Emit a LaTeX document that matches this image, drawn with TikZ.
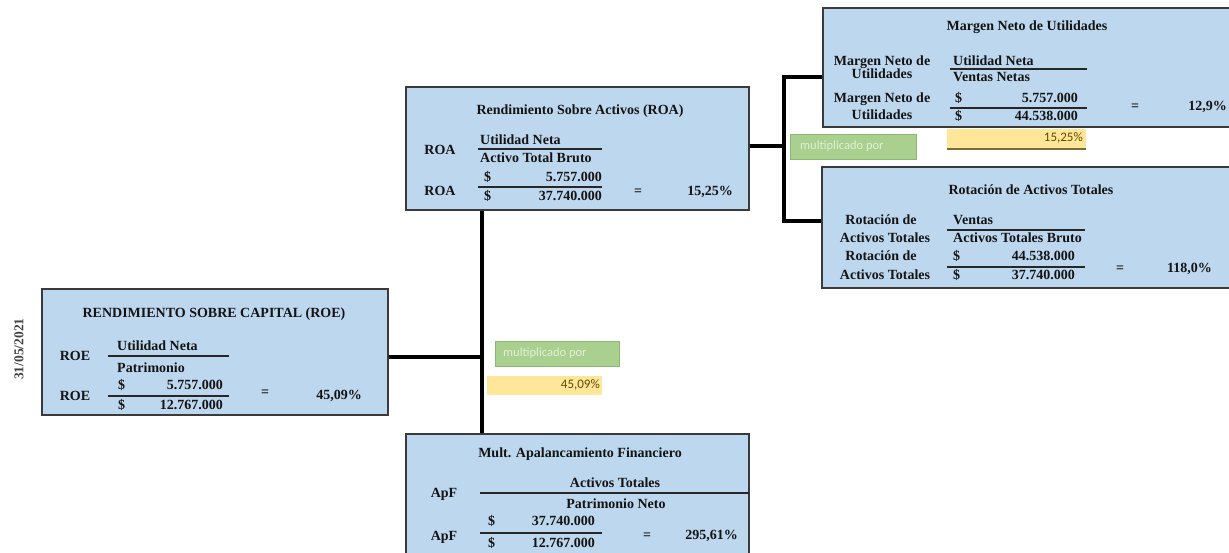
\documentclass[tikz,border=0pt]{standalone}
\usepackage{fontspec}
\setmainfont{Liberation Serif}
\newfontfamily\carl{Carlito}
\definecolor{boxblue}{HTML}{BDD7EE}
\definecolor{boxedge}{HTML}{3A3A3A}
\definecolor{grfill}{HTML}{A9D08E}
\definecolor{gredge}{HTML}{8DB871}
\definecolor{grtext}{HTML}{E2EFDA}
\definecolor{yelfill}{HTML}{FFE699}
\definecolor{yeltext}{HTML}{5E4A00}
\definecolor{yeledge}{HTML}{7F6A3A}
\begin{document}
\begin{tikzpicture}[x=1pt,y=-1pt,
  box/.style={draw=boxedge,line width=1.6pt,fill=boxblue,inner sep=0pt},
  conn/.style={line width=4pt,black,line join=miter},
  tx/.style={font=\fontsize{14}{16}\selectfont\bfseries,inner sep=0pt,text=black!92},
  ttl/.style={tx,anchor=mid},
  lbl/.style={tx,anchor=mid},
  lw/.style={tx,anchor=mid west},
  le/.style={tx,anchor=mid east},
  frac/.style={line width=1.4pt,black!85},
  green/.style={draw=gredge,line width=0.8pt,fill=grfill,inner sep=0pt},
  gtext/.style={font=\carl\fontsize{12.5}{14}\selectfont,text=grtext,inner sep=0pt,anchor=mid west},
  yel/.style={fill=yelfill,draw=none,inner sep=0pt},
  ytext/.style={font=\carl\fontsize{13}{14}\selectfont,text=yeltext,inner sep=0pt,anchor=mid east}
]
\useasboundingbox (0,0) rectangle (1229,552);
\fill[white] (0,0) rectangle (1229,552);

% ---------- boxes ----------
\node[box,minimum width=346pt,minimum height=126pt] (roe) at (215,352) {};
\node[box,minimum width=343pt,minimum height=123pt] (roa) at (577.5,148.5) {};
\node[box,minimum width=420pt,minimum height=119pt] (mar) at (1033,67.5) {};
\node[box,minimum width=420pt,minimum height=121pt] (rot) at (1032,227.5) {};
\node[box,minimum width=343pt,minimum height=130pt] (apf) at (577.5,499) {};

% ---------- connectors ----------
\coordinate (j1) at (482,357);
\coordinate (j2) at (784,146);
\coordinate (jt) at (784,77);
\coordinate (jb) at (784,221);
\draw[conn] (roe.east |- j1) -- (j1);
\draw[conn] (roa.south -| j1) -- (apf.north -| j1);
\draw[conn] (roa.east |- j2) -- (j2);
\draw[conn] (mar.west |- jt) -- (jt) -- (jb) -- (rot.west |- jb);

% ---------- date ----------
\node[font=\fontsize{13.5}{15}\selectfont\bfseries,text=black!75,rotate=90,inner sep=0pt] (date) at (19,349) {31/05/2021};

% ---------- ROE ----------
\node[ttl] (roeT) at (214,315) {RENDIMIENTO SOBRE CAPITAL (ROE)};
\node[lbl] (roeL1) at (75,358) {ROE};
\node[lbl] (roeL2) at (75,398) {ROE};
\node[lw] (roeN) at (117,348) {Utilidad Neta};
\draw[frac] (108,356) -- (229,356);
\node[lw] (roeD) at (117,370) {Patrimonio};
\node[lw] (roeS1) at (118,387) {\$};
\node[le] (roeV1) at (223,387) {5.757.000};
\draw[frac] (108,396) -- (229,396);
\node[lw] (roeS2) at (118,407) {\$};
\node[le] (roeV2) at (223,407) {12.767.000};
\node[lbl] (roeEq) at (265,394) {=};
\node[le] (roeR) at (362,397) {45,09\%};

% ---------- ROA ----------
\node[ttl] (roaT) at (580,112) {Rendimiento Sobre Activos (ROA)};
\node[lbl] (roaL1) at (440,152) {ROA};
\node[lbl] (roaL2) at (440,193) {ROA};
\node[lw] (roaN) at (480,142) {Utilidad Neta};
\draw[frac] (478,149) -- (602,149);
\node[lw] (roaD) at (480,160) {Activo Total Bruto};
\node[lw] (roaS1) at (484,179) {\$};
\node[le] (roaV1) at (602,179) {5.757.000};
\draw[frac] (478,187) -- (602,187);
\node[lw] (roaS2) at (484,198) {\$};
\node[le] (roaV2) at (602,198) {37.740.000};
\node[lbl] (roaEq) at (638,193) {=};
\node[le] (roaR) at (733,193) {15,25\%};

% ---------- Margen ----------
\node[ttl] (marT) at (1027,28) {Margen Neto de Utilidades};
\node[lbl] (marL1) at (882,63) {Margen Neto de};
\node[lbl] (marL2) at (882,76) {Utilidades};
\node[lbl] (marL3) at (882,100) {Margen Neto de};
\node[lbl] (marL4) at (882,117) {Utilidades};
\node[lw] (marN) at (953,63) {Utilidad Neta};
\draw[frac] (950,69) -- (1087,69);
\node[lw] (marD) at (953,79) {Ventas Netas};
\node[lw] (marS1) at (955,100) {\$};
\node[le] (marV1) at (1078,100) {5.757.000};
\draw[frac] (950,108) -- (1087,108);
\node[lw] (marS2) at (955,118) {\$};
\node[le] (marV2) at (1078,118) {44.538.000};
\node[lbl] (marEq) at (1135,108) {=};
\node[le] (marR) at (1227,108) {12,9\%};

% ---------- Rotacion ----------
\node[ttl] (rotT) at (1031,192) {Rotación de Activos Totales};
\node[lbl] (rotL1) at (881,222) {Rotación de};
\node[lbl] (rotL2) at (885,240) {Activos Totales};
\node[lbl] (rotL3) at (881,258) {Rotación de};
\node[lbl] (rotL4) at (885,277) {Activos Totales};
\node[lw] (rotN) at (953,222) {Ventas};
\draw[frac] (947,230) -- (1085,230);
\node[lw] (rotD) at (953,240) {Activos Totales Bruto};
\node[lw] (rotS1) at (953,258) {\$};
\node[le] (rotV1) at (1075,258) {44.538.000};
\draw[frac] (947,267) -- (1085,267);
\node[lw] (rotS2) at (953,277) {\$};
\node[le] (rotV2) at (1075,277) {37.740.000};
\node[lbl] (rotEq) at (1120,270) {=};
\node[le] (rotR) at (1212,270) {118,0\%};

% ---------- ApF ----------
\node[ttl] (apfT) at (580,455) {Mult. Apalancamiento Financiero};
\node[lbl] (apfL1) at (444,495) {ApF};
\node[lbl] (apfL2) at (444,538) {ApF};
\node[lbl] (apfN) at (615,485) {Activos Totales};
\draw[frac] (480,493) -- (749,493);
\node[lbl] (apfD) at (616,506) {Patrimonio Neto};
\node[lw] (apfS1) at (488,523) {\$};
\node[le] (apfV1) at (595,523) {37.740.000};
\draw[frac] (480,533) -- (602,533);
\node[lw] (apfS2) at (488,545) {\$};
\node[le] (apfV2) at (595,545) {12.767.000};
\node[lbl] (apfEq) at (647,537) {=};
\node[le] (apfR) at (738,537) {295,61\%};

% ---------- multiplicado por / results ----------
\node[green,minimum width=124pt,minimum height=25pt] (g1) at (557,353.5) {};
\node[gtext] (g1t) at (503,354) {multiplicado por};
\node[yel,minimum width=115pt,minimum height=19pt] (y1) at (544.5,385.5) {};
\node[ytext] (y1t) at (600,386) {45,09\%};

\node[green,minimum width=126pt,minimum height=25pt] (g2) at (853,146.5) {};
\node[gtext] (g2t) at (800,147) {multiplicado por};
\node[yel,minimum width=139pt,minimum height=20pt] (y2) at (1016.5,139) {};
\draw[yeledge,line width=1.5pt] (y2.south west) -- (y2.south east);
\node[ytext] (y2t) at (1083,139) {15,25\%};
\end{tikzpicture}
\end{document}
